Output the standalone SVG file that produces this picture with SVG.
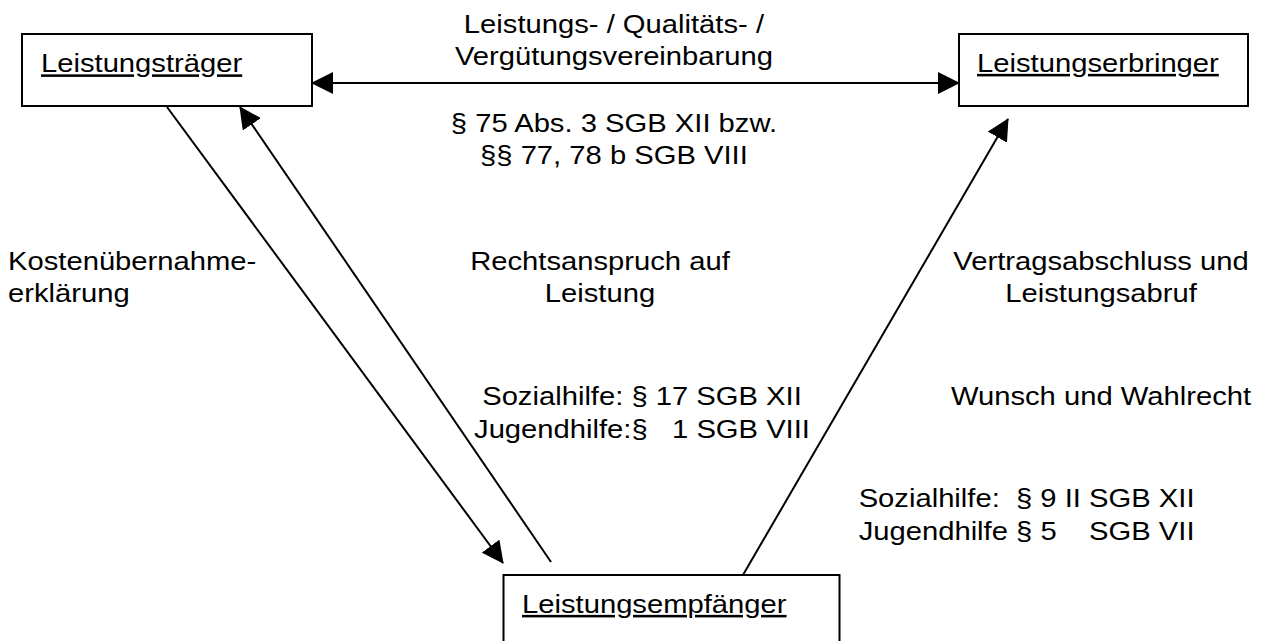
<svg xmlns="http://www.w3.org/2000/svg" width="1265" height="641" viewBox="0 0 1265 641">
<style>
.box{fill:#fff;stroke:#000;stroke-width:2}
.conn{stroke:#000;stroke-width:2;fill:none}
text{font-family:"Liberation Sans",Arial,sans-serif;font-size:25.5px;fill:#000;white-space:pre}
.u{text-decoration:underline}
.m{text-anchor:middle}
</style>
<defs>
<marker id="ah" viewBox="0 0 22 22" refX="21" refY="11" markerWidth="22" markerHeight="22" markerUnits="userSpaceOnUse" orient="auto-start-reverse">
<path d="M0,0 L22,11 L0,22 z" fill="#000"/>
</marker>
</defs>
<g id="connectors">
<line class="conn" x1="312" y1="83" x2="959" y2="83" marker-start="url(#ah)" marker-end="url(#ah)"/>
<line class="conn" x1="167" y1="107" x2="503" y2="563" marker-end="url(#ah)"/>
<line class="conn" x1="551" y1="562" x2="240" y2="107" marker-end="url(#ah)"/>
<line class="conn" x1="743" y1="575" x2="1008" y2="119" marker-end="url(#ah)"/>
</g>
<g id="node-traeger">
<rect class="box" x="22" y="34" width="290" height="72"/>
<text class="u" transform="scale(1.145,1)" x="35.8" y="72.5">Leistungsträger</text>
</g>
<g id="node-erbringer">
<rect class="box" x="959" y="34" width="289" height="72"/>
<text class="u" transform="scale(1.145,1)" x="853.3" y="72">Leistungserbringer</text>
</g>
<g id="node-empfaenger">
<rect class="box" x="503.5" y="575" width="336" height="80"/>
<text class="u" transform="scale(1.145,1)" x="455.9" y="613">Leistungsempfänger</text>
</g>
<g id="labels" transform="scale(1.145,1)">
<text class="m" x="536.2" y="33">Leistungs- / Qualitäts- /</text>
<text class="m" x="536.2" y="65">Vergütungsvereinbarung</text>
<text class="m" x="536.2" y="132">§ 75 Abs. 3 SGB XII bzw.</text>
<text class="m" x="536.2" y="164">§§ 77, 78 b SGB VIII</text>
<text x="7" y="270">Kostenübernahme-</text>
<text x="7" y="302">erklärung</text>
<text class="m" x="524" y="270">Rechtsanspruch auf</text>
<text class="m" x="524" y="302">Leistung</text>
<text class="m" x="961.6" y="270">Vertragsabschluss und</text>
<text class="m" x="961.6" y="302">Leistungsabruf</text>
<text class="m" x="560.7" y="405">Sozialhilfe: § 17 SGB XII</text>
<text class="m" x="560.7" y="438">Jugendhilfe:§   1 SGB VIII</text>
<text class="m" x="961.6" y="405">Wunsch und Wahlrecht</text>
<text x="749.9" y="507">Sozialhilfe:  § 9 II SGB XII</text>
<text x="749.9" y="540">Jugendhilfe § 5    SGB VII</text>
</g>
</svg>
